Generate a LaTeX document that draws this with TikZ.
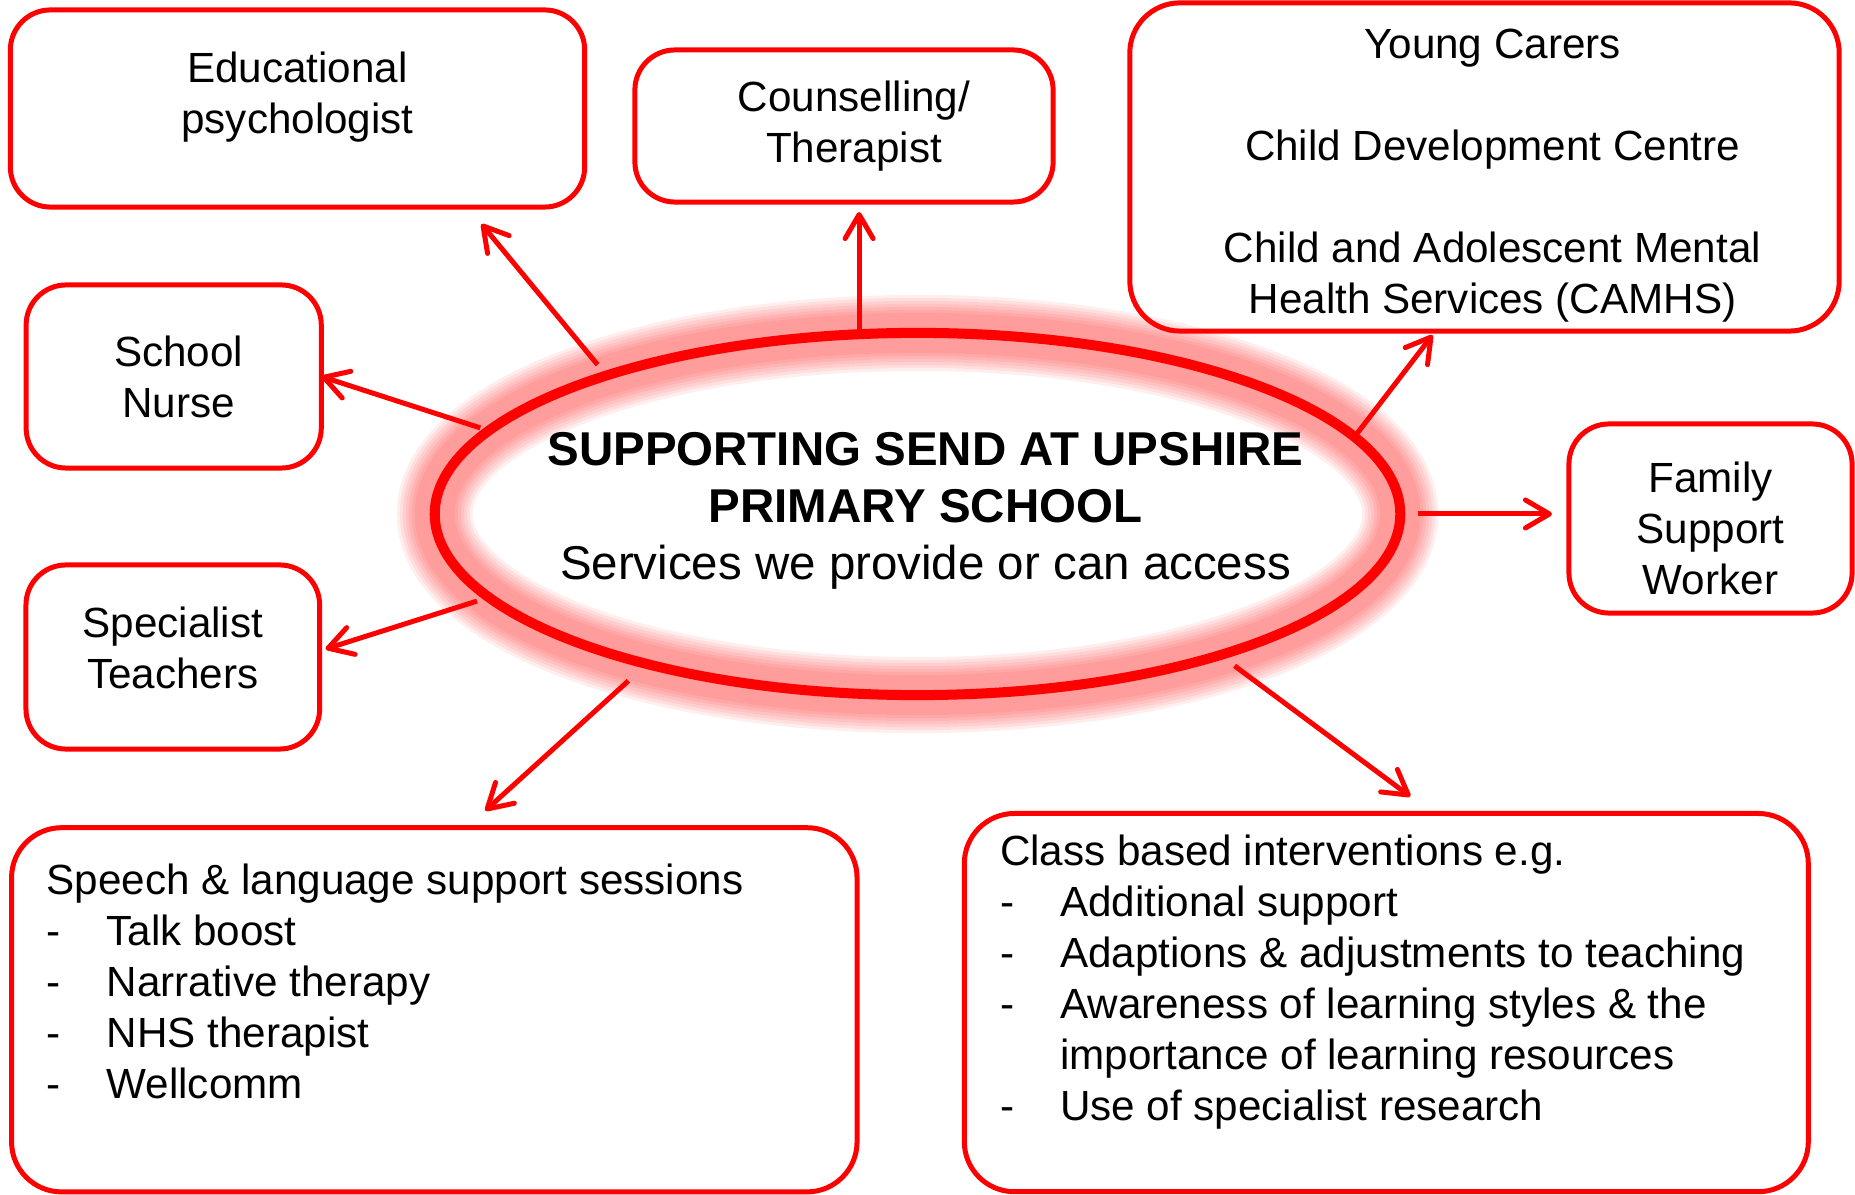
\documentclass[tikz,border=0pt]{standalone}
\usepackage{fontspec}
\setmainfont{Liberation Sans}
\usepackage{tikz}
\usetikzlibrary{arrows.meta, positioning, shapes.geometric, calc, backgrounds}
\tikzset{
    svcbox/.style={
        rectangle,
        draw=red,
        line width=1.42pt,
        rounded corners=0.4cm,
        inner sep=0pt,
        outer sep=0pt,
        align=center,
        font=\fontsize{12pt}{14.5pt}\selectfont % same size in every box
    },
    bigbox/.style={svcbox, rounded corners=0.5cm},
    hubring/.style={
        ellipse,
        draw=red,
        line width=2.85pt,
        minimum width=9.65cm,
        minimum height=3.62cm,
        inner sep=0pt,
        outer sep=0pt
    },
    hubtitle/.style={
        align=center,
        font=\fontsize{13.5pt}{16.2pt}\selectfont
    },
    svclink/.style={draw=red, line width=1.42pt, -{Straight Barb[length=2.4mm, width=2.8mm, round]}}
}
\newcommand{\svcitem}[1]{\par\noindent\makebox[0.6cm][l]{-}#1}
\newcommand{\svcmore}[1]{\par\noindent\hspace*{0.6cm}#1}

\begin{document}
\begin{tikzpicture}[x=0.01cm, y=-0.01cm]
    \useasboundingbox (0,0) rectangle (1855,1195);

    % centre
    \node[hubring] (hub) at (917.5,514) {};
    \node[hubtitle] (title) at ([shift={(8,-3)}]hub.center) {\textbf{SUPPORTING SEND AT UPSHIRE}\\\textbf{PRIMARY SCHOOL}\\Services we provide or can access};

    \begin{scope}[on background layer]
        \foreach \w in {40,46,...,76}
            \draw[red, opacity=0.065, line width=\w*0.1mm] (hub.center) ellipse [x radius=4.825cm, y radius=1.81cm];
    \end{scope}

    % boxes
    \node[svcbox, minimum width=5.74cm, minimum height=1.97cm] (edpsy) at (297.5,108.5) {\parbox[c][1.13cm][t]{5.74cm}{\centering Educational\\psychologist}};
    \node[svcbox, minimum width=4.18cm, minimum height=1.52cm] (counsel) at (844,126) {\hspace*{0.2cm}Counselling/\\\hspace*{0.2cm}Therapist};
    \node[bigbox, minimum width=7.09cm, minimum height=3.28cm] (carers) at (1484.5,167) {\hspace*{0.16cm}\parbox[c][2.76cm][t]{6.9cm}{\centering Young Carers\\[14.5pt] Child Development Centre\\[14.5pt] Child and Adolescent Mental\\ Health Services (CAMHS)}};
    \node[svcbox, minimum width=2.95cm, minimum height=1.83cm] (nurse) at (173.7,376.5) {\hspace*{0.1cm}School\\\hspace*{0.1cm}Nurse};
    \node[svcbox, minimum width=2.83cm, minimum height=1.89cm] (family) at (1710.5,518.5) {\parbox[c][1.14cm][t]{2.83cm}{\centering Family\\Support\\Worker}};
    \node[svcbox, minimum width=2.935cm, minimum height=1.84cm] (special) at (172.8,657) {\parbox[c][1.0cm][t]{2.935cm}{\centering Specialist\\Teachers}};
    \node[bigbox, minimum width=8.45cm, minimum height=3.64cm] (speech) at (434.3,1009.8) {\parbox[c][2.92cm][t]{7.75cm}{\raggedright\parskip=0pt Speech \& language support sessions
        \svcitem{Talk boost}
        \svcitem{Narrative therapy}
        \svcitem{NHS therapist}
        \svcitem{Wellcomm}}};
    \node[bigbox, minimum width=8.435cm, minimum height=3.78cm] (classb) at (1386.3,1002.6) {\parbox[c][3.36cm][t]{7.72cm}{\raggedright\parskip=0pt Class based interventions e.g.
        \svcitem{Additional support}
        \svcitem{Adaptions \& adjustments to teaching}
        \svcitem{Awareness of learning styles \& the}
        \svcmore{importance of learning resources}
        \svcitem{Use of specialist research}}};

    % arrows
    \draw[svclink, shorten <=0.14cm] (hub.156) -- ($(edpsy.south)+(184,17)$);
    \draw[svclink] (hub.108) -- ($(hub.108 |- counsel.south)+(0,10)$);
    \draw[svclink] (hub.10) -- ($(carers.south)+(-52,4)$);
    \draw[svclink, shorten <=0.09cm] (hub.169) -- (nurse.east);
    \draw[svclink, shorten <=0.175cm] (hub.0) -- ($(hub.0 -| family.west)+(-17,0)$);
    \draw[svclink, shorten <=0.125cm] (hub.191) -- ($(special.east)+(6,-8)$);
    \draw[svclink, shorten <=0.25cm] (hub.209) -- ($(speech.north)+(51,-17)$);
    \draw[svclink, shorten <=0.18cm] (hub.335) -- ($(classb.north)+(24,-17)$);

\end{tikzpicture}
\end{document}
